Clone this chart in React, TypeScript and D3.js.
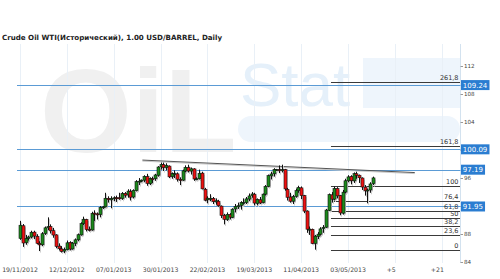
import React from 'react';
import * as d3 from 'd3';

const title = 'Crude Oil WTI(Исторический), 1.00 USD/BARREL, Daily';

const dateLabels = ['19/11/2012', '12/12/2012', '07/01/2013', '30/01/2013', '22/02/2013', '19/03/2013', '11/04/2013', '03/05/2013'];
const futureLabels = ['+5', '+21'];
const futureOffsets = [5, 21];

const open = [87.4, 89.2, 86.8, 87.4, 87.6, 88.3, 87.7, 86.7, 86.5, 88.1, 88.9, 89.1, 88.5, 87.9, 86.3, 85.9, 85.6, 85.8, 86.8, 85.9, 86.7, 87.2, 87.9, 89.5, 90.1, 88.7, 88.6, 91.0, 90.9, 90.8, 91.8, 91.9, 93.1, 92.9, 93.1, 93.2, 93.2, 93.1, 93.8, 93.6, 94.1, 93.3, 94.2, 95.5, 95.6, 95.7, 96.2, 95.2, 95.9, 95.9, 96.4, 97.6, 97.9, 97.5, 97.7, 96.2, 96.6, 96.6, 95.8, 95.7, 97.0, 97.5, 97.0, 97.3, 95.9, 95.9, 96.7, 94.4, 92.9, 93.1, 93.1, 92.6, 92.7, 92.0, 90.7, 90.1, 90.8, 90.4, 91.6, 91.9, 92.1, 92.5, 92.5, 93.0, 93.5, 93.7, 92.4, 92.9, 92.5, 93.7, 94.8, 96.3, 96.6, 97.2, 97.2, 97.1, 97.2, 94.4, 93.3, 92.7, 93.4, 94.2, 94.6, 93.5, 91.3, 88.7, 88.7, 86.7, 87.7, 88.0, 88.8, 89.0, 91.4, 93.6, 93.0, 94.5, 93.5, 91.0, 94.0, 95.6, 96.2, 95.6, 96.6, 96.4, 96.0, 94.7, 94.2, 94.3, 95.2];
const high = [89.9, 89.45, 87.9, 87.8, 88.5, 88.5, 88.0, 87.0, 88.3, 89.1, 90.4, 89.4, 88.9, 88.0, 86.7, 86.3, 86.1, 87.1, 87.0, 86.9, 87.4, 88.1, 89.7, 90.5, 90.2, 89.1, 91.2, 91.4, 91.1, 92.0, 92.0, 93.9, 93.4, 93.4, 93.4, 93.5, 93.9, 94.0, 94.0, 94.4, 94.4, 94.4, 95.7, 96.0, 95.8, 96.4, 96.6, 96.1, 96.2, 96.6, 97.7, 98.2, 98.2, 98.1, 97.8, 96.8, 97.1, 96.8, 96.1, 97.2, 97.8, 97.9, 97.5, 97.4, 96.1, 97.2, 96.9, 94.6, 93.4, 93.7, 93.3, 93.1, 92.9, 92.1, 90.9, 91.1, 91.0, 91.7, 92.3, 92.5, 92.7, 93.1, 93.3, 93.8, 94.0, 93.9, 93.1, 93.3, 93.8, 95.0, 96.5, 96.9, 97.4, 97.3, 97.8, 97.9, 97.3, 94.6, 93.9, 93.6, 94.5, 94.9, 94.8, 93.6, 91.4, 89.1, 88.8, 87.9, 88.3, 89.0, 89.3, 91.6, 93.8, 94.0, 94.8, 94.7, 93.6, 94.3, 95.9, 96.4, 96.4, 96.8, 96.9, 96.5, 96.1, 95.0, 94.5, 95.4, 96.2];
const low = [87.2, 86.2, 86.5, 87.1, 87.4, 87.3, 86.6, 85.6, 86.3, 87.9, 88.6, 88.1, 87.5, 86.0, 85.7, 85.4, 85.3, 85.7, 85.7, 85.8, 86.3, 87.0, 87.8, 89.3, 88.4, 88.4, 88.5, 89.9, 90.1, 90.4, 91.6, 91.8, 92.5, 91.7, 92.7, 92.6, 92.9, 92.9, 93.2, 93.2, 92.8, 93.1, 94.1, 95.0, 95.4, 95.4, 94.9, 95.0, 95.3, 95.6, 96.2, 97.2, 97.0, 97.1, 96.0, 95.9, 96.0, 95.5, 95.0, 95.6, 96.8, 96.8, 96.5, 95.6, 95.7, 95.8, 94.4, 92.7, 92.4, 92.7, 92.3, 92.2, 91.9, 90.3, 89.4, 89.9, 90.1, 90.3, 91.1, 91.6, 91.5, 92.2, 92.3, 92.7, 93.2, 92.1, 92.1, 92.3, 92.4, 93.5, 94.7, 95.8, 96.2, 97.0, 96.7, 96.8, 94.2, 92.8, 92.5, 92.3, 93.2, 93.9, 93.0, 91.0, 88.2, 87.9, 86.6, 85.8, 87.3, 87.8, 88.2, 88.9, 91.3, 92.5, 92.8, 93.1, 90.7, 90.8, 93.8, 95.4, 95.1, 95.3, 95.9, 95.3, 94.3, 93.5, 92.4, 93.9, 95.0];
const close = [89.28, 86.75, 87.38, 87.6, 88.28, 87.74, 86.71, 86.49, 88.07, 88.91, 89.09, 88.49, 87.88, 86.26, 85.93, 85.56, 85.8, 86.77, 85.89, 86.73, 87.2, 87.93, 89.51, 90.13, 88.66, 88.61, 90.98, 90.87, 90.8, 91.82, 91.9, 93.12, 92.92, 93.09, 93.19, 93.15, 93.1, 93.82, 93.56, 94.14, 93.28, 94.24, 95.49, 95.56, 95.7, 96.24, 95.23, 95.95, 95.88, 96.44, 97.57, 97.94, 97.49, 97.77, 96.17, 96.64, 96.62, 95.83, 95.72, 97.03, 97.51, 97.01, 97.31, 95.86, 95.9, 96.66, 94.46, 92.84, 93.13, 93.11, 92.63, 92.76, 92.05, 90.68, 90.12, 90.82, 90.43, 91.56, 91.95, 92.06, 92.54, 92.52, 93.03, 93.45, 93.73, 92.44, 92.96, 92.45, 93.71, 94.81, 96.34, 96.58, 97.23, 97.2, 97.07, 97.19, 94.45, 93.26, 92.7, 93.36, 94.2, 94.64, 93.5, 91.29, 88.71, 88.72, 86.68, 87.73, 88.01, 88.76, 88.99, 91.44, 93.64, 92.99, 94.5, 93.46, 91.03, 93.99, 95.61, 96.16, 95.62, 96.62, 96.39, 96.04, 94.72, 94.17, 94.3, 95.16, 96.02];

const yTicks = [84, 88, 92, 96, 100, 104, 108, 112];
const priceLevels = [109.24, 100.09, 97.19, 91.95];

const fibLevels = [0, 23.6, 38.2, 50, 61.8, 76.4, 100, 161.8, 261.8];
const fibLabels = ['0', '23,6', '38,2', '50', '61,8', '76,4', '100', '161,8', '261,8'];
const fibLow = 85.71;
const fibHigh = 94.87;
const fibStartIndex = 112.8;

const trendIdx = [44.4, 143.2];
const trendPrice = [98.56, 96.78];

const BARS_PER_GRID = 17;
const GRID_COUNT = 10;

export default function App() {
  const W = 500, H = 279;
  const plotLeft = 17, plotRight = 460.5, plotTop = 44, plotBottom = 263;
  const lastIdx = close.length - 1;
  const maxIdx = BARS_PER_GRID * (GRID_COUNT - 1);
  const x = d3.scaleLinear().domain([0, maxIdx]).range([20, 441.8]);
  const y = d3.scaleLinear().domain([84, 112]).range([262.3, 65.7]);
  const px = (v: number) => Math.round(v) + 0.5;

  const gridIdx = d3.range(GRID_COUNT).map((k) => k * BARS_PER_GRID);
  const fibPrice = (lv: number) => fibLow + (fibHigh - fibLow) * lv / 100;
  const numW = (s: string) => {
    let w = 0;
    for (const ch of s) w += (ch === '.' || ch === ',') ? 0.318 : 0.636;
    return w * 7;
  };
  const trendLine = d3.line<number>().x((_, i) => x(trendIdx[i])).y((p) => y(p));
  const hiddenTick = (t: number) => priceLevels.some((v) => Math.abs(y(v) - y(t)) < 8);

  return (
    <svg width={W} height={H} style={{ position: 'absolute', left: 0, top: 0, background: '#fff' }} fontFamily="'DejaVu Sans', Verdana, sans-serif">
      <rect x={0} y={0} width={W} height={H} fill="#fff" />
      {/* watermark */}
      <g>
        <text x={40} y={152} fontSize={118} fontWeight="bold" fontFamily="'Liberation Sans', Arial, sans-serif" fill="#f0f0f0">OiL</text>
        <text x={240} y={106} fontSize={62} fontFamily="'Liberation Sans', Arial, sans-serif" fill="#e5f0fa">Stat</text>
        <rect x={363} y={58} width={97} height={50} fill="#eef5fc" />
        <rect x={238} y={116} width={222} height={26} rx={13} fill="#eef5fc" />
      </g>
      {/* vertical gridlines */}
      {gridIdx.map((gi) => (
        <line key={'g' + gi} x1={px(x(gi))} x2={px(x(gi))} y1={plotTop} y2={plotBottom} stroke="#e9f0f7" strokeWidth={1} />
      ))}
      {/* right axis line */}
      <line x1={plotRight} x2={plotRight} y1={plotTop} y2={plotBottom} stroke="#d3e2ef" strokeWidth={1} />
      {/* title */}
      <text x={2} y={40} fontSize={7.1} fontWeight="bold" fill="#222">{title}</text>
      {/* price level lines */}
      {priceLevels.map((v) => (
        <line key={'pl' + v} x1={plotLeft} x2={plotRight} y1={px(y(v))} y2={px(y(v))} stroke="#5b9bd5" strokeWidth={1} />
      ))}
      {/* fib lines */}
      {fibLevels.map((lv, k) => {
        const yy = px(y(fibPrice(lv)));
        return (
          <g key={'fib' + lv}>
            <line x1={x(fibStartIndex)} x2={plotRight - 0.5} y1={yy} y2={yy} stroke="#3a3a3a" strokeWidth={1} />
            <text x={458.5} y={yy - 2.5} fontSize={6.5} textAnchor="end" fill="#333">{fibLabels[k]}</text>
          </g>
        );
      })}
      {/* trend line */}
      <path d={trendLine(trendPrice.map((p) => p - 0.15)) || ''} stroke="#c8c8c8" strokeWidth={1} fill="none" />
      <path d={trendLine(trendPrice) || ''} stroke="#555" strokeWidth={1} fill="none" />
      {/* candles */}
      {close.map((c, i) => {
        const o = open[i], h = high[i], l = low[i];
        const cx = Math.round(x(i));
        const top = y(Math.max(o, c));
        const bh = Math.max(1, y(Math.min(o, c)) - top);
        const up = c >= o;
        return (
          <g key={'c' + i}>
            <line x1={cx + 1.5} x2={cx + 1.5} y1={y(h) + 1.5} y2={y(l) + 1.5} stroke="#cfcfcf" strokeWidth={1} />
            <rect x={cx} y={top + 1.5} width={3} height={bh} fill="#cfcfcf" />
            <line x1={cx + 0.5} x2={cx + 0.5} y1={y(h)} y2={y(l)} stroke="#111" strokeWidth={1} />
            <rect x={cx - 1} y={top} width={3} height={bh} fill={up ? '#1c8a1c' : '#ee1111'} stroke="#111" strokeWidth={0.6} />
          </g>
        );
      })}
      {/* y axis ticks */}
      {yTicks.map((t) => (
        <g key={'yt' + t}>
          <line x1={plotRight} x2={plotRight + 2.5} y1={px(y(t))} y2={px(y(t))} stroke="#999" strokeWidth={1} />
          {!hiddenTick(t) && <text x={464} y={y(t) + 2} fontSize={5.6} fill="#444">{t}</text>}
        </g>
      ))}
      {/* price level boxes */}
      {priceLevels.map((v) => {
        const s = v.toFixed(2);
        const w = numW(s) + 4;
        return (
          <g key={'pb' + v}>
            <rect x={461} y={y(v) - 5} width={w} height={10} fill="#2a7dd1" />
            <text x={462.8} y={y(v) + 2.6} fontSize={7} fill="#fff">{s}</text>
          </g>
        );
      })}
      {/* x labels */}
      {dateLabels.map((d, k) => (
        <text key={'xl' + d} x={x(gridIdx[k])} y={272} fontSize={6.2} textAnchor="middle" fill="#444">{d}</text>
      ))}
      {futureLabels.map((f, k) => (
        <text key={'fl' + f} x={x(lastIdx + futureOffsets[k])} y={272} fontSize={6.2} fill="#444">{f}</text>
      ))}
    </svg>
  );
}
